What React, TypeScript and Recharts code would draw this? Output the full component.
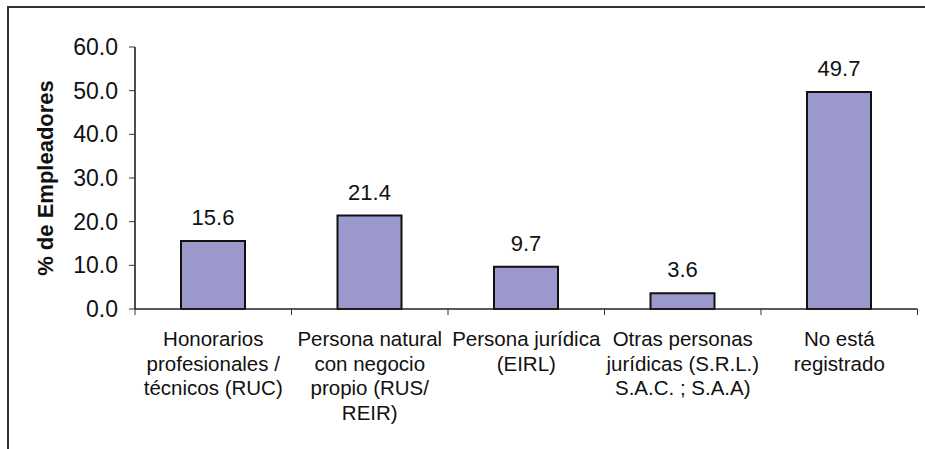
import React from "react";
import {
  BarChart,
  Bar,
  XAxis,
  YAxis,
  LabelList,
  Label,
} from "recharts";

const categories = [
  "Honorarios profesionales / técnicos (RUC)",
  "Persona natural con negocio propio (RUS/ REIR)",
  "Persona jurídica (EIRL)",
  "Otras personas jurídicas (S.R.L.) S.A.C. ; S.A.A)",
  "No está registrado",
];
const tickLines = [
  ["Honorarios", "profesionales /", "técnicos (RUC)"],
  ["Persona natural", "con negocio", "propio (RUS/", "REIR)"],
  ["Persona jurídica", "(EIRL)"],
  ["Otras personas", "jurídicas (S.R.L.)", "S.A.C. ; S.A.A)"],
  ["No está", "registrado"],
];
const values = [15.6, 21.4, 9.7, 3.6, 49.7];
const yTicks = [0, 10, 20, 30, 40, 50, 60];

const data = categories.map((name, i) => ({ name, value: values[i] }));

const W = 925;
const H = 449;
const M = { top: 47, right: 7.5, bottom: 10, left: 18 };
const Y_AXIS_W = 117;
const X_AXIS_H = 130;
const BAND = (W - M.left - M.right - Y_AXIS_W) / categories.length;
const PLOT_MID = M.top + (H - M.top - M.bottom - X_AXIS_H) / 2;
const FONT = "'Liberation Sans', Arial, Helvetica, sans-serif";

// category label + tick marks on the band boundaries (Excel style)
const CategoryTick = (props: any) => {
  const { x, y, index } = props;
  const lines = tickLines[index] || [];
  const left = x - BAND / 2;
  const right = x + BAND / 2;
  return (
    <g>
      <line x1={left} x2={left} y1={y} y2={y + 6} stroke="#333" strokeWidth={1} />
      {index === categories.length - 1 && (
        <line x1={right} x2={right} y1={y} y2={y + 6} stroke="#333" strokeWidth={1} />
      )}
      <text
        x={x}
        y={y + 37}
        textAnchor="middle"
        fill="#111"
        fontSize={20.5}
        fontFamily={FONT}
      >
        {lines.map((l: string, i: number) => (
          <tspan key={i} x={x} dy={i === 0 ? 0 : 24.7}>
            {l}
          </tspan>
        ))}
      </text>
    </g>
  );
};

export default function App() {
  return (
    <div
      style={{
        position: "fixed",
        top: 0,
        left: 0,
        width: W,
        height: H,
        overflow: "hidden",
        fontFamily: FONT,
        background: "#fff",
      }}
    >
      <BarChart width={W} height={H} data={data} margin={M} barSize={64}>
        {/* grey plot-area border (top + right) */}
        <XAxis
          xAxisId="top"
          orientation="top"
          dataKey="name"
          height={0}
          tick={false}
          tickLine={false}
          axisLine={{ stroke: "#888", strokeWidth: 1.5 }}
        />
        <YAxis
          yAxisId="right"
          orientation="right"
          width={0}
          tick={false}
          tickLine={false}
          axisLine={{ stroke: "#888", strokeWidth: 1.5 }}
        />
        <XAxis
          dataKey="name"
          height={X_AXIS_H}
          interval={0}
          tickSize={0}
          tickMargin={0}
          tickLine={false}
          axisLine={{ stroke: "#222", strokeWidth: 1.5 }}
          tick={<CategoryTick />}
        />
        <YAxis
          domain={[0, 60]}
          ticks={yTicks}
          width={Y_AXIS_W}
          tickSize={6}
          tickMargin={11}
          tickFormatter={(v: number) => v.toFixed(1)}
          axisLine={{ stroke: "#111", strokeWidth: 1.5 }}
          tickLine={{ stroke: "#333" }}
          tick={{ fill: "#111", fontSize: 23, fontFamily: FONT }}
        >
          <Label
            content={() => {
              const cx = 45;
              const cy = PLOT_MID;
              return (
                <g>
                  {/* outer frame: only its top and left edges are in view */}
                  <path d={`M8 ${H} V7 H${W}`} fill="none" stroke="#333" strokeWidth={2} />
                  <text
                    x={cx}
                    y={cy}
                    transform={`rotate(-90 ${cx} ${cy})`}
                    textAnchor="middle"
                    dominantBaseline="central"
                    fontSize={22}
                    fontWeight="bold"
                    fill="#111"
                    fontFamily={FONT}
                  >
                    % de Empleadores
                  </text>
                </g>
              );
            }}
          />
        </YAxis>
        <Bar
          dataKey="value"
          fill="#9b99cc"
          stroke="#111"
          strokeWidth={2}
          isAnimationActive={false}
        >
          <LabelList
            dataKey="value"
            position="top"
            offset={16}
            formatter={(v: any) => Number(v).toFixed(1)}
            style={{ fill: "#111", fontSize: 22, fontFamily: FONT }}
          />
        </Bar>
      </BarChart>
    </div>
  );
}
